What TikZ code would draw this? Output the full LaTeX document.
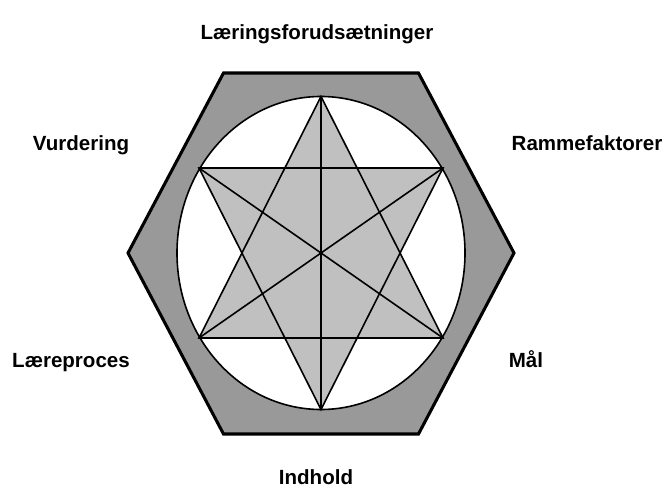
\documentclass[tikz,border=0pt]{standalone}
\usepackage{fontspec}
\setmainfont{Liberation Sans}
\usepackage{xcolor}
\usepackage{tikz}
\usetikzlibrary{positioning,calc}
\definecolor{hxGray}{HTML}{999999}
\definecolor{hxStar}{HTML}{C0C0C0}
\definecolor{hxLine}{HTML}{000000}
\definecolor{hxWhite}{HTML}{FFFFFF}
\tikzset{
  hx-frame/.style={draw=hxLine, line width=2.3pt, fill=hxGray, line join=miter},
  hx-ring/.style={draw=hxLine, line width=1.2pt, fill=hxWhite},
  hx-star/.style={draw=hxLine, line width=1.2pt, fill=hxStar, line join=miter},
  hx-axis/.style={draw=hxLine, line width=1.2pt},
  hx-label/.style={font=\fontsize{15.4}{18}\selectfont\bfseries, anchor=base,
    inner sep=0pt, text=hxLine}
}
\begin{document}
\begin{tikzpicture}[x=0.75pt, y=0.75pt]
\useasboundingbox (-321,-235) rectangle (349,253);

% outer hexagon
\draw[hx-frame] (-193,0) -- (-97.5,180) -- (97.5,180) -- (193,0)
  -- (97.5,-181) -- (-97.5,-181) -- cycle;

% circle
\draw[hx-ring] (0,0) ellipse [x radius=144, y radius=156.5];

% star points
\coordinate (pt) at (0,156.5);
\coordinate (pb) at (0,-156.5);
\coordinate (pul) at (-122,85);
\coordinate (pur) at (122,85);
\coordinate (pll) at (-122,-85);
\coordinate (plr) at (122,-85);

\fill[hxStar] (pt) -- (pll) -- (plr) -- cycle;
\fill[hxStar] (pb) -- (pul) -- (pur) -- cycle;
\draw[hx-axis] (pt) -- (pll) -- (plr) -- cycle;
\draw[hx-axis] (pb) -- (pul) -- (pur) -- cycle;

% axes through the centre
\draw[hx-axis] (pt) -- (pb);
\draw[hx-axis] (pul) -- (plr);
\draw[hx-axis] (pur) -- (pll);

% labels
\node[hx-label] (forud) at (-4,213) {Læringsforudsætninger};
\node[hx-label] (vurd) at (-240,102) {Vurdering};
\node[hx-label] (ramme) at (266,102) {Rammefaktorer};
\node[hx-label] (laere) at (-250,-115) {Læreproces};
\node[hx-label] (maal) at (205,-115) {Mål};
\node[hx-label] (indhold) at (-5,-231) {Indhold};
\end{tikzpicture}
\end{document}
